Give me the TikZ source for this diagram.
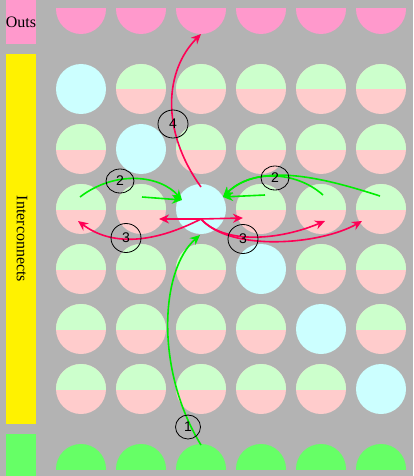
\documentclass[tikz,border=0pt]{standalone}
\usepackage{fontspec}
\setmainfont{Liberation Serif}
\newfontfamily\numfont{Liberation Sans}
\usetikzlibrary{arrows.meta,calc,shapes.geometric}
\definecolor{bggray}{HTML}{B3B3B3}
\definecolor{outpink}{HTML}{FF99CC}
\definecolor{ingreen}{HTML}{66FF66}
\definecolor{tilegreen}{HTML}{CCFFCC}
\definecolor{tilepink}{HTML}{FFCCCC}
\definecolor{tilecyan}{HTML}{CCFFFF}
\definecolor{wirered}{HTML}{FF0055}
\definecolor{wiregreen}{HTML}{00EE00}
\begin{document}
\begin{tikzpicture}[x=1pt,y=-1pt,
  wire/.style={line width=1.6pt,-{Stealth[length=10pt,width=9pt]}},
  numlabel/.style={draw=black,ellipse,line width=0.8pt,minimum width=28pt,minimum height=26pt,inner sep=0pt,font=\numfont\fontsize{14}{14}\selectfont},
  barlabel/.style={font=\fontsize{16}{18}\selectfont}]
  % background
  \fill[bggray] (0,0) rectangle (413,476);
  \useasboundingbox (0,0) rectangle (413,476);

  % side bars
  \fill[outpink] (6,0) rectangle (36,44);
  \node[barlabel] (outs) at (21,22) {Outs};
  \fill[yellow] (6,54) rectangle (36,424);
  \node[barlabel, rotate=-90] (inter) at (22,239) {Interconnects};
  \fill[ingreen] (6,434) rectangle (36,476);

  % outputs (top) and inputs (bottom)
  \foreach \c [evaluate=\c as \tx using 21+60*\c] in {1,...,6} {
    \begin{scope}
      \clip (\tx-25,9) rectangle (\tx+25,35);
      \fill[outpink] (\tx,9) circle (25);
    \end{scope}
    \begin{scope}
      \clip (\tx-25,444) rectangle (\tx+25,469);
      \fill[ingreen] (\tx,469) circle (25);
    \end{scope}
  }
  \coordinate (in3) at (201,445);
  \coordinate (out3) at (201,34);

  % tiles
  \foreach \r in {1,...,6} {
    \foreach \c [evaluate=\c as \tx using 21+60*\c] in {1,...,6} {
      \pgfmathsetmacro\ty{29+60*\r}
      \coordinate (t\r\c) at (\tx,\ty);
      \ifnum\r=\c
        \fill[tilecyan] (\tx,\ty) circle (25);
      \else
        \fill[tilepink] (\tx,\ty) circle (25);
        \begin{scope}
          \clip (\tx-25,\ty-25) rectangle (\tx+25,\ty);
          \fill[tilegreen] (\tx,\ty) circle (25);
        \end{scope}
      \fi
    }
  }

  % 1: input to tile
  \draw[wire,wiregreen] (in3) .. controls (155,370) and (160,270) .. ($(t33)+(-1,26)$);

  % 2: neighbours to tile
  \draw[wire,wiregreen] ($(t31)+(-1,-12)$) .. controls (115,170) and (160,175) .. ($(t33)+(-19,-9)$);
  \draw[wire,wiregreen] ($(t32)+(1,-12)$) -- ($(t33)+(-19,-9)$);
  \draw[wire,wiregreen] ($(t34)+(4,-14)$) -- ($(t33)+(22,-12)$);
  \draw[wire,wiregreen] ($(t35)+(2,-14)$) .. controls (295,170) and (250,170) .. ($(t33)+(22,-12)$);
  \draw[wire,wiregreen] ($(t36)+(-1,-13)$) .. controls (330,180) and (260,160) .. ($(t33)+(22,-12)$);

  % 3: tile to neighbours
  \draw[wire,wirered] ($(t33)+(0,10)$) -- ($(t32)+(18,10)$);
  \draw[wire,wirered] ($(t33)+(0,10)$) -- ($(t34)+(-18,9)$);
  \draw[wire,wirered] ($(t33)+(0,10)$) .. controls (150,245) and (110,245) .. ($(t31)+(-3,12)$);
  \draw[wire,wirered] ($(t33)+(0,10)$) .. controls (225,245) and (280,240) .. ($(t35)+(4,12)$);
  \draw[wire,wirered] ($(t33)+(0,10)$) .. controls (230,252) and (320,245) .. ($(t36)+(-19,12)$);

  % 4: tile to output
  \draw[wire,wirered] ($(t33)+(0,-22)$) .. controls (160,130) and (165,70) .. (out3);

  % step numbers
  \node[numlabel, minimum width=25pt, minimum height=24pt] (lbl1) at (188,427) {1};
  \node[numlabel, minimum height=24pt] (lbl2a) at (120,181) {2};
  \node[numlabel, minimum height=24pt] (lbl2b) at (275,178) {2};
  \node[numlabel, minimum width=30pt, minimum height=29pt] (lbl3a) at (126,238) {3};
  \node[numlabel, minimum width=30pt, minimum height=29pt] (lbl3b) at (243,239) {3};
  \node[numlabel, minimum width=30pt, minimum height=28pt] (lbl4) at (173,124) {4};
\end{tikzpicture}
\end{document}
